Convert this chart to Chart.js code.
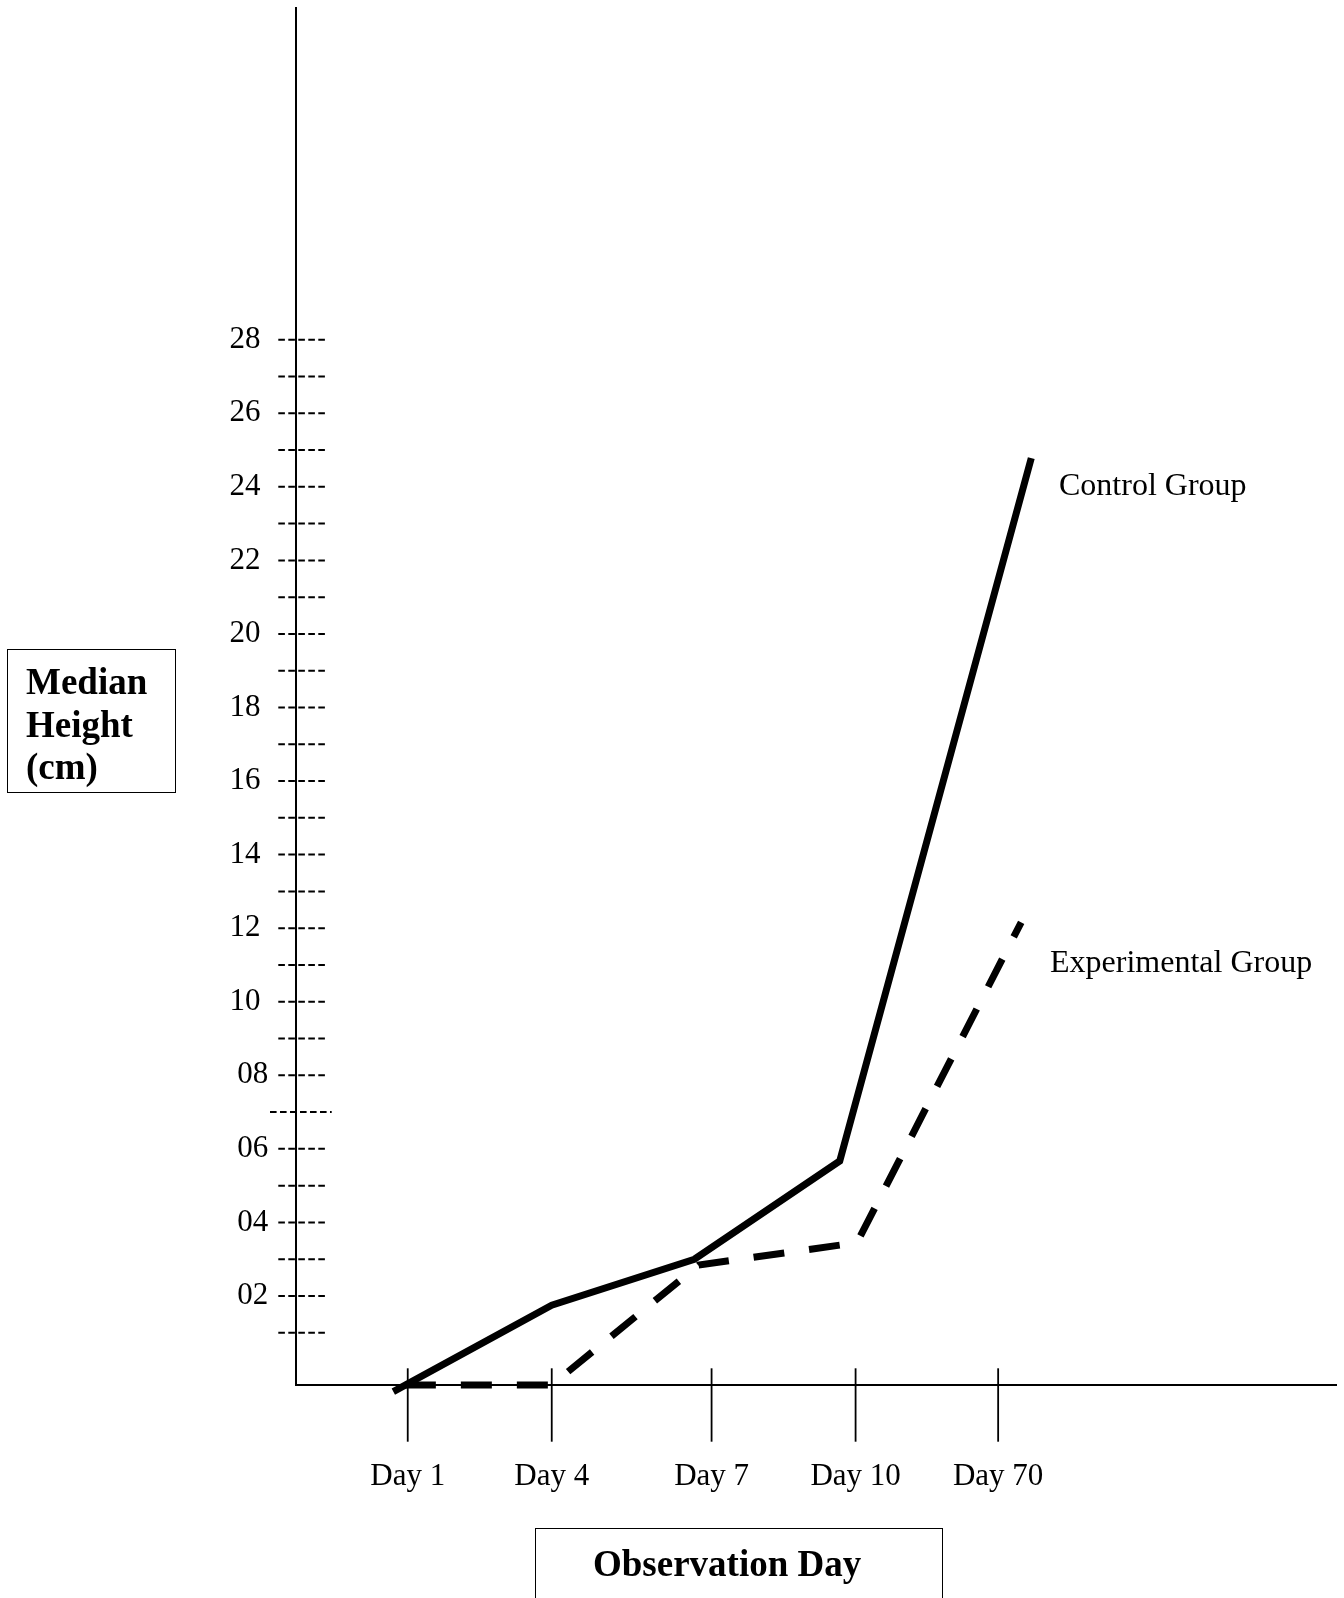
<!DOCTYPE html>
<html>
<head>
<meta charset="utf-8">
<title>Median Height by Observation Day</title>
<script src="https://cdn.jsdelivr.net/npm/chart.js@4.4.1/dist/chart.umd.min.js"></script>
<style>
    html, body { margin: 0; padding: 0; background: #fff; overflow: hidden; }
    #wrap { position: relative; width: 1344px; height: 1598px; }
    canvas { position: absolute; left: 0; top: 0; }
    .box { position: absolute; border: 1.5px solid #000; box-sizing: border-box; }
    .axis-title {
        position: absolute; white-space: nowrap; color: #000;
        font-family: 'Liberation Serif', 'Times New Roman', serif;
        font-weight: bold; font-size: 37px; line-height: 42.5px;
    }
    .series-label {
        position: absolute; white-space: nowrap; color: #000;
        font-family: 'Liberation Serif', 'Times New Roman', serif;
        font-size: 32px; line-height: 32px;
    }
</style>
</head>
<body>
<div id="wrap">
    <canvas id="heightChart" width="1344" height="1598"></canvas>

    <!-- Axis title boxes -->
    <div class="box" style="left:7.3px; top:649px; width:168.4px; height:144.3px;"></div>
    <div class="axis-title" style="left:26px; top:661.3px;">Median<br>Height<br>(cm)</div>

    <div class="box" style="left:535.4px; top:1528.3px; width:408.1px; height:110px;"></div>
    <div class="axis-title" style="left:593px; top:1543px;">Observation Day</div>

    <!-- Series labels -->
    <div class="series-label" style="left:1059px; top:467.5px;">Control Group</div>
    <div class="series-label" style="left:1050px; top:945px;">Experimental Group</div>
</div>

<script>
// --- Data ---
const dayLabels = ['Day 1', 'Day 4', 'Day 7', 'Day 10', 'Day 70'];
const dayTickPos = [1, 2, 3.11, 4.11, 5.1];   // where each day tick sits on the x axis

const yTickValues = [2, 4, 6, 8, 10, 12, 14, 16, 18, 20, 22, 24, 26, 28];
const yTickLabels = ['02', '04', '06', '08', '10', '12', '14', '16', '18', '20', '22', '24', '26', '28'];
const yDashValues = [1, 2, 3, 4, 5, 6, 7, 8, 9, 10, 11, 12, 13, 14,
                     15, 16, 17, 18, 19, 20, 21, 22, 23, 24, 25, 26, 27, 28];

const controlX = [0.9, 2.0, 2.99, 4.0, 5.33];
const controlY = [-0.6, 1.75, 3.0, 5.67, 24.78];

const experimentalX = [0.98, 2.0, 3.02, 4.12, 5.26];
const experimentalY = [-0.42, -0.42, 2.84, 3.45, 12.16];

const serif = "'Liberation Serif', 'Times New Roman', serif";

const toPoints = (xs, ys) => xs.map((x, i) => ({ x: x, y: ys[i] }));

// keep the plot area fixed: no extra room reserved for tick labels
const fixScale = (size) => (scale) => {
    if (scale.isHorizontal()) scale.height = size; else scale.width = size;
    scale.paddingTop = 0;
    scale.paddingBottom = 0;
    scale.paddingLeft = 0;
    scale.paddingRight = 0;
};

// --- Typed-dash tick marks on the y axis and crossing ticks on the x axis ---
const axisMarks = {
    id: 'axisMarks',
    afterDraw(chart) {
        const { ctx, scales: { x, y } } = chart;
        const axisX = x.left;
        const axisY = y.bottom;
        ctx.save();
        ctx.strokeStyle = '#000';

        ctx.lineWidth = 2;
        ctx.setLineDash([6.6, 3.4]);
        yDashValues.forEach(v => {
            const py = y.getPixelForValue(v);
            const wide = v === 7; // this one was typed with an extra dash
            ctx.beginPath();
            ctx.moveTo(axisX - (wide ? 25.7 : 17.4), py);
            ctx.lineTo(axisX + (wide ? 36 : 32.3), py);
            ctx.stroke();
        });

        ctx.setLineDash([]);
        ctx.lineWidth = 1.8;
        dayTickPos.forEach(d => {
            const px = x.getPixelForValue(d);
            ctx.beginPath();
            ctx.moveTo(px, axisY - 16.7);
            ctx.lineTo(px, axisY + 56.7);
            ctx.stroke();
        });
        ctx.restore();
    }
};

new Chart(document.getElementById('heightChart'), {
    type: 'line',
    data: {
        datasets: [
            {
                label: 'Control Group',
                data: toPoints(controlX, controlY),
                borderColor: '#000',
                borderWidth: 7,
                borderCapStyle: 'butt',
                borderJoinStyle: 'miter',
                pointRadius: 0,
                tension: 0,
                fill: false,
                clip: false
            },
            {
                label: 'Experimental Group',
                data: toPoints(experimentalX, experimentalY),
                borderColor: '#000',
                borderWidth: 7,
                borderDash: [31, 25],
                borderCapStyle: 'butt',
                borderJoinStyle: 'miter',
                pointRadius: 0,
                tension: 0,
                fill: false,
                clip: false
            }
        ]
    },
    options: {
        responsive: false,
        animation: false,
        events: [],
        layout: { padding: { left: 0, top: 8.3, right: 7.3, bottom: 0 } },
        plugins: {
            legend: { display: false },
            tooltip: { enabled: false }
        },
        scales: {
            x: {
                type: 'linear',
                bounds: 'data',
                min: 0.222,
                max: 7.451,
                afterFit: fixScale(213),
                afterBuildTicks(scale) { scale.ticks = dayTickPos.map(v => ({ value: v })); },
                grid: { display: false, drawTicks: false },
                border: { display: true, color: '#000', width: 2 },
                ticks: {
                    autoSkip: false,
                    maxRotation: 0,
                    padding: 73,
                    color: '#000',
                    font: { family: serif, size: 31 },
                    callback: (v, i) => dayLabels[i]
                }
            },
            y: {
                type: 'linear',
                bounds: 'data',
                min: -0.42,
                max: 37.01,
                afterFit: fixScale(295.7),
                afterBuildTicks(scale) { scale.ticks = yTickValues.map(v => ({ value: v })); },
                grid: { display: false, drawTicks: false },
                border: { display: true, color: '#000', width: 2 },
                ticks: {
                    padding: 27.4,
                    color: '#000',
                    font: { family: serif, size: 31 },
                    // two-digit labels were typed with an extra space before the dashes
                    callback: (v, i) => yTickLabels[i] + (yTickLabels[i][0] === '0' ? '' : ' ')
                }
            }
        }
    },
    plugins: [axisMarks]
});
</script>
</body>
</html>
